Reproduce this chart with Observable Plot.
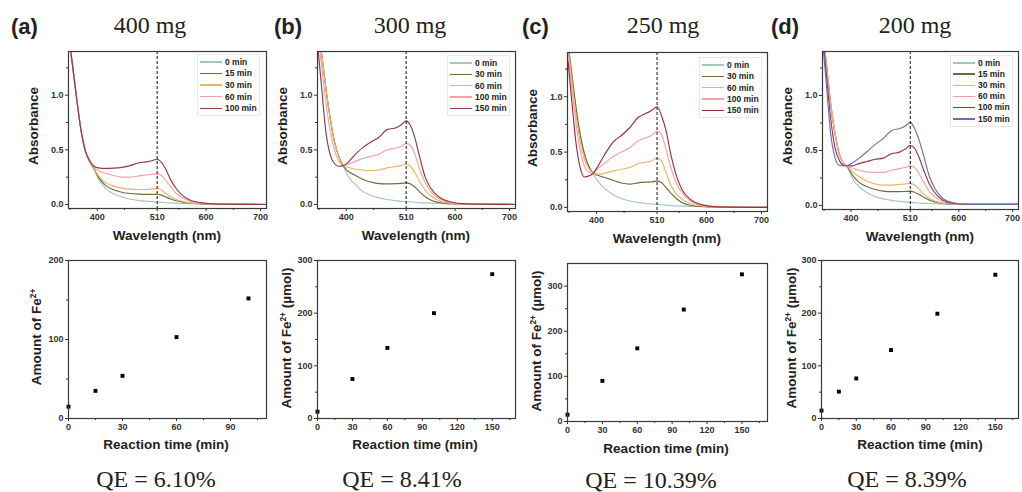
<!DOCTYPE html>
<html><head><meta charset="utf-8">
<script src="https://cdn.jsdelivr.net/npm/d3@7"></script>
<script src="https://cdn.jsdelivr.net/npm/@observablehq/plot@0.6"></script>
<style>
body{margin:0;background:#fff;}
#fig{position:relative;width:1022px;height:492px;overflow:hidden;font-family:"Liberation Sans",Arial,sans-serif;color:#222;}
.abs{position:absolute;white-space:nowrap;line-height:1;}
.legend{border:1px solid #e8e8e8;padding:1px 2px;background:#fff;}
.lrow{display:flex;align-items:center;}
.lline{display:inline-block;width:22px;height:1.4px;}
.ltxt{font-size:8.5px;font-weight:bold;margin-left:3px;color:#222;}
sup{font-size:0.62em;vertical-align:0.6em;line-height:0;}
</style></head><body><div id="fig"></div><script>
// ---------- data ----------
const wavelength = [348, 355, 362, 370, 378, 386, 394, 402, 415, 430, 445, 460, 475, 490, 500, 510, 518, 526, 535, 545, 555, 570, 590, 620, 710];

// (a) 400 mg
const a_0min   = [1.52,1.25,0.97,0.68,0.49,0.39,0.32,0.235,0.148,0.097,0.068,0.05,0.038,0.03,0.026,0.022,0.019,0.016,0.014,0.012,0.01,0.008,0.006,0.004,0.002];
const a_15min  = [1.52,1.25,0.97,0.68,0.49,0.39,0.325,0.25,0.175,0.135,0.112,0.10,0.094,0.092,0.092,0.093,0.085,0.068,0.05,0.034,0.023,0.012,0.006,0.002,0];
const a_30min  = [1.52,1.25,0.97,0.68,0.49,0.395,0.33,0.265,0.20,0.168,0.15,0.14,0.137,0.137,0.14,0.146,0.132,0.10,0.07,0.045,0.03,0.015,0.007,0.002,0];
const a_60min  = [1.52,1.25,0.97,0.68,0.49,0.40,0.345,0.31,0.285,0.265,0.25,0.25,0.26,0.27,0.275,0.28,0.265,0.22,0.16,0.10,0.065,0.03,0.012,0.003,0];
const a_100min = [1.52,1.25,0.97,0.68,0.49,0.40,0.35,0.335,0.33,0.333,0.34,0.355,0.38,0.39,0.40,0.414,0.385,0.32,0.225,0.146,0.09,0.04,0.017,0.003,0];

// (b) 300 mg
const b_0min   = [1.62,1.36,1.08,0.80,0.58,0.44,0.355,0.27,0.19,0.12,0.085,0.06,0.045,0.035,0.03,0.026,0.023,0.02,0.017,0.014,0.012,0.009,0.006,0.004,0.002];
const b_30min  = [1.62,1.36,1.08,0.80,0.58,0.44,0.355,0.31,0.27,0.23,0.205,0.19,0.188,0.19,0.193,0.198,0.188,0.16,0.115,0.07,0.04,0.018,0.007,0.002,0];
const b_60min  = [1.62,1.36,1.08,0.80,0.58,0.44,0.355,0.34,0.325,0.315,0.31,0.315,0.335,0.345,0.355,0.368,0.35,0.29,0.21,0.13,0.08,0.035,0.012,0.003,0];
const b_100min = [1.55,1.25,0.95,0.68,0.50,0.40,0.355,0.365,0.39,0.42,0.44,0.46,0.50,0.515,0.53,0.557,0.54,0.46,0.32,0.20,0.12,0.055,0.02,0.004,0];
const b_150min = [1.42,1.05,0.68,0.46,0.375,0.35,0.355,0.38,0.45,0.52,0.57,0.615,0.685,0.70,0.725,0.765,0.72,0.61,0.43,0.25,0.15,0.07,0.025,0.005,0];

// (c) 250 mg
const c_0min   = [1.48,1.2,0.92,0.66,0.48,0.37,0.30,0.24,0.17,0.115,0.08,0.058,0.045,0.035,0.03,0.027,0.024,0.02,0.017,0.014,0.012,0.009,0.006,0.004,0.002];
const c_30min  = [1.48,1.2,0.92,0.66,0.48,0.37,0.31,0.29,0.27,0.245,0.22,0.21,0.222,0.228,0.23,0.24,0.225,0.18,0.13,0.08,0.045,0.02,0.008,0.002,0];
const c_60min  = [1.45,1.15,0.85,0.60,0.43,0.35,0.31,0.30,0.31,0.33,0.345,0.36,0.395,0.41,0.42,0.445,0.42,0.32,0.20,0.12,0.075,0.035,0.013,0.003,0];
const c_100min = [1.4,1.08,0.78,0.52,0.37,0.32,0.31,0.35,0.40,0.46,0.50,0.54,0.60,0.63,0.65,0.69,0.66,0.53,0.36,0.22,0.135,0.06,0.022,0.005,0];
const c_150min = [1.32,0.95,0.60,0.36,0.275,0.285,0.31,0.37,0.48,0.59,0.65,0.72,0.81,0.85,0.875,0.91,0.83,0.70,0.48,0.29,0.165,0.075,0.025,0.005,0];

// (d) 200 mg
const d_0min   = [1.55,1.25,0.93,0.66,0.47,0.385,0.34,0.25,0.17,0.115,0.08,0.06,0.046,0.037,0.032,0.028,0.025,0.022,0.019,0.017,0.015,0.013,0.011,0.01,0.01];
const d_15min  = [1.55,1.25,0.93,0.66,0.47,0.385,0.345,0.28,0.21,0.17,0.145,0.13,0.125,0.125,0.127,0.13,0.12,0.10,0.075,0.05,0.032,0.018,0.012,0.01,0.01];
const d_30min  = [1.55,1.25,0.93,0.66,0.47,0.385,0.35,0.31,0.26,0.22,0.195,0.185,0.185,0.19,0.195,0.20,0.185,0.15,0.105,0.065,0.04,0.02,0.012,0.01,0.01];
const d_60min  = [1.55,1.25,0.93,0.66,0.47,0.385,0.35,0.34,0.32,0.305,0.30,0.30,0.32,0.335,0.345,0.36,0.345,0.29,0.21,0.13,0.08,0.035,0.014,0.01,0.01];
const d_100min = [1.5,1.15,0.80,0.53,0.41,0.365,0.36,0.36,0.38,0.40,0.42,0.43,0.47,0.485,0.51,0.545,0.52,0.44,0.32,0.20,0.12,0.05,0.018,0.01,0.01];
const d_150min = [1.45,1.05,0.66,0.44,0.365,0.36,0.365,0.385,0.43,0.49,0.555,0.61,0.68,0.70,0.72,0.755,0.70,0.60,0.45,0.27,0.16,0.065,0.024,0.01,0.01];

const legendA = ["0 min","15 min","30 min","60 min","100 min"];
const legendB = ["0 min","30 min","60 min","100 min","150 min"];
const legendC = ["0 min","30 min","60 min","100 min","150 min"];
const legendD = ["0 min","15 min","30 min","60 min","100 min","150 min"];

const colorsA = ["#a3c9b8","#706c3e","#eab464","#f4a3a3","#8c3a48"];
const colorsB = ["#a3c9b8","#706c3e","#eab464","#f4a3a3","#8c3a48"];
const colorsC = ["#a3c9b8","#706c3e","#eab464","#f4a3a3","#a12d3a"];
const colorsD = ["#a3c9b8","#706c3e","#eab464","#f4a3a3","#8c3a48","#6e6eb5"];

// Fe2+ amount vs reaction time
const timeA = [0,15,30,60,100];     const fe2A = [15,35,54,103,152];
const timeB = [0,30,60,100,150];    const fe2B = [13,75,134,200,274];
const timeC = [0,30,60,100,150];    const fe2C = [15,90,162,248,326];
const timeD = [0,15,30,60,100,150]; const fe2D = [15,51,76,130,199,273];

const massLabels = ["400 mg","300 mg","250 mg","200 mg"];
const panelLetters = ["(a)","(b)","(c)","(d)"];
const qeLabels = ["QE = 6.10%","QE = 8.41%","QE = 10.39%","QE = 8.39%"];

// ---------- layout ----------
const fig = document.getElementById("fig");
const baseStyle = {fontFamily:'"Liberation Sans", Arial, sans-serif', fontSize:"9px", fontWeight:"bold", color:"#333", background:"transparent", overflow:"visible"};
const ML = 60, MR = 8, MT = 10, MB = 22;

function place(svg, f){
  svg.style.position = "absolute";
  svg.style.left = (f.L - ML) + "px";
  svg.style.top = (f.T - MT) + "px";
  fig.appendChild(svg);
}

function topPlot(series, labels, colors, f){
  const rows = [];
  series.forEach((s,i) => s.forEach((v,j) => rows.push({w: wavelength[j], a: v, t: labels[i]})));
  const svg = Plot.plot({
    width: f.R - f.L + ML + MR, height: f.B - f.T + MT + MB,
    marginLeft: ML, marginRight: MR, marginTop: MT, marginBottom: MB,
    x: {domain: [347, 711]}, y: {domain: [-0.037, 1.4]},
    color: {domain: labels, range: colors},
    style: baseStyle,
    marks: [
      Plot.line(rows, {x:"w", y:"a", z:"t", stroke:"t", curve:"monotone-x", strokeWidth:1.15, clip:true}),
      Plot.ruleX([510], {stroke:"#111", strokeDasharray:"3,2", strokeWidth:1}),
      Plot.frame({stroke:"#3a3a3a", strokeWidth:1.2}),
      Plot.axisX({ticks:[400,510,600,700], tickSize:3, tickPadding:2, label:null}),
      Plot.axisX({ticks:[350,450,550,650], tickSize:2, tickFormat:()=>"", label:null}),
      Plot.axisY({ticks:[0,0.5,1], tickFormat:".1f", tickSize:3, tickPadding:2, label:null}),
      Plot.axisY({ticks:[0.25,0.75,1.25], tickSize:2, tickFormat:()=>"", label:null})
    ]
  });
  place(svg, f);
}

function bottomPlot(times, amounts, f, xdom, ydom, xt, xm, yt, ym){
  const rows = times.map((t,i) => ({t, v: amounts[i]}));
  const svg = Plot.plot({
    width: f.R - f.L + ML + MR, height: f.B - f.T + MT + MB,
    marginLeft: ML, marginRight: MR, marginTop: MT, marginBottom: MB,
    x: {domain: xdom}, y: {domain: ydom},
    style: baseStyle,
    marks: [
      Plot.dot(rows, {x:"t", y:"v", symbol:"square", r:2.2, fill:"#000", stroke:null}),
      Plot.frame({stroke:"#3a3a3a", strokeWidth:1.2}),
      Plot.axisX({ticks:xt, tickSize:3, tickPadding:2, label:null}),
      Plot.axisX({ticks:xm, tickSize:2, tickFormat:()=>"", label:null}),
      Plot.axisY({ticks:yt, tickSize:3, tickPadding:2, label:null}),
      Plot.axisY({ticks:ym, tickSize:2, tickFormat:()=>"", label:null})
    ]
  });
  place(svg, f);
}

topPlot([a_0min,a_15min,a_30min,a_60min,a_100min], legendA, colorsA, {L:68,R:266,T:51,B:208});
topPlot([b_0min,b_30min,b_60min,b_100min,b_150min], legendB, colorsB, {L:317,R:515,T:51,B:208});
topPlot([c_0min,c_30min,c_60min,c_100min,c_150min], legendC, colorsC, {L:567,R:767,T:52,B:211});
topPlot([d_0min,d_15min,d_30min,d_60min,d_100min,d_150min], legendD, colorsD, {L:822,R:1018,T:51,B:209});

const xt150 = [0,30,60,90,120,150], xm150 = [15,45,75,105,135,165];
bottomPlot(timeA, fe2A, {L:68,R:266,T:260,B:418}, [0,110], [0,200], [0,30,60,90], [15,45,75,105], [0,100,200], [50,150]);
bottomPlot(timeB, fe2B, {L:317,R:515,T:260,B:418}, [0,170], [0,300], xt150, xm150, [0,100,200,300], [50,150,250]);
bottomPlot(timeC, fe2C, {L:567,R:767,T:263,B:421}, [0,172], [0,350], xt150, xm150, [0,100,200,300], [50,150,250]);
bottomPlot(timeD, fe2D, {L:821,R:1018,T:260,B:418}, [0,170], [0,300], xt150, xm150, [0,100,200,300], [50,150,250]);

// ---------- text ----------
function txt(s, x, baseline, size, family, weight, center){
  const d = document.createElement("div");
  d.className = "abs"; d.innerHTML = s;
  d.style.fontSize = size + "px"; d.style.fontFamily = family; d.style.fontWeight = weight;
  const k = family.includes("Serif") ? 0.8375 : 0.8465;
  d.style.top = (baseline - k*size) + "px";
  d.style.left = x + "px";
  if (center) d.style.transform = "translateX(-50%)";
  fig.appendChild(d);
}
function vtxt(s, cx, cy, size){
  const d = document.createElement("div");
  d.className = "abs"; d.innerHTML = s;
  d.style.fontSize = size + "px"; d.style.fontWeight = "bold";
  d.style.left = cx + "px"; d.style.top = cy + "px";
  d.style.transform = "translate(-50%,-50%) rotate(-90deg)";
  fig.appendChild(d);
}
function legend(labels, colors, left, top, step){
  const d = document.createElement("div");
  d.className = "abs legend";
  d.style.left = (left - 3) + "px"; d.style.top = (top - step/2 - 2) + "px";
  labels.forEach((l,i) => {
    const r = document.createElement("div"); r.className = "lrow"; r.style.height = step + "px";
    const ln = document.createElement("span"); ln.className = "lline"; ln.style.background = colors[i];
    const tx = document.createElement("span"); tx.className = "ltxt"; tx.textContent = l;
    r.appendChild(ln); r.appendChild(tx); d.appendChild(r);
  });
  fig.appendChild(d);
}

const serif = '"Liberation Serif","Times New Roman",serif';
const sans = '"Liberation Sans",Arial,sans-serif';
const letterX = [11, 274, 522, 771];
const massX = [150, 410, 663, 915];
const qeX = [156, 402, 651, 907];
const qeB = [487, 487, 488, 487];
for (let i = 0; i < 4; i++){
  txt(panelLetters[i], letterX[i], 35, 22, sans, "bold", false);
  txt(massLabels[i], massX[i], 33, 24, serif, "normal", true);
  txt(qeLabels[i], qeX[i], qeB[i], 24, serif, "normal", true);
}
const wlX = [167, 416, 667, 920], wlB = [240, 240, 243, 241];
const rtX = [166, 415, 666, 920], rtB = [449, 449, 453, 449];
for (let i = 0; i < 4; i++){
  txt("Wavelength (nm)", wlX[i], wlB[i], 13.5, sans, "bold", true);
  txt("Reaction time (min)", rtX[i], rtB[i], 13.5, sans, "bold", true);
}
const abX = [34, 283, 533, 788], abY = [126, 126, 128, 126];
for (let i = 0; i < 4; i++) vtxt("Absorbance", abX[i], abY[i], 13.5);
vtxt("Amount of Fe<sup>2+</sup>", 37, 337, 13.5);
vtxt("Amount of Fe<sup>2+</sup> (µmol)", 287, 338, 13.5);
vtxt("Amount of Fe<sup>2+</sup> (µmol)", 537, 341, 13.5);
vtxt("Amount of Fe<sup>2+</sup> (µmol)", 792, 338, 13.5);

legend(legendA, colorsA, 200, 62, 11.6);
legend(legendB, colorsB, 450, 63, 11.4);
legend(legendC, colorsC, 702, 65, 11.4);
legend(legendD, colorsD, 953, 63, 11.2);
</script></body></html>
